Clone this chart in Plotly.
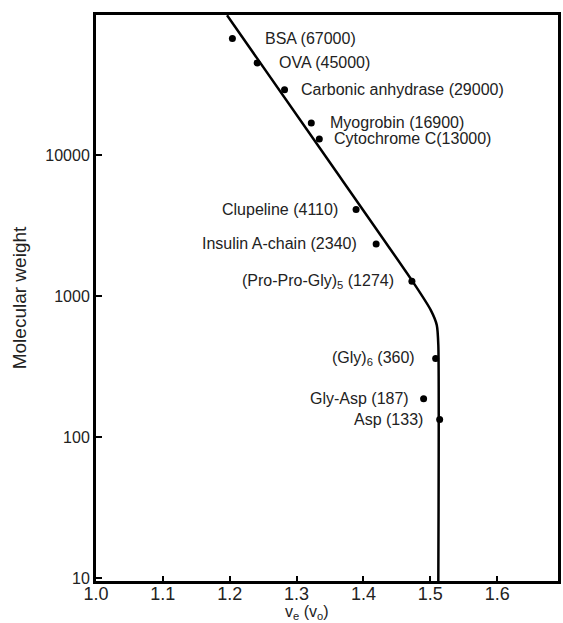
import math
import plotly.graph_objects as go

# ---- data ----
names = ["BSA (67000)", "OVA (45000)", "Carbonic anhydrase (29000)", "Myogrobin (16900)",
         "Cytochrome C(13000)", "Clupeline (4110)", "Insulin A-chain (2340)",
         "(Pro-Pro-Gly)<sub>5</sub> (1274)", "(Gly)<sub>6</sub> (360)", "Gly-Asp (187)", "Asp (133)"]
ve = [1.204, 1.241, 1.282, 1.322, 1.334, 1.389, 1.419, 1.4725, 1.508, 1.490, 1.514]
mw = [67000, 45000, 29000, 16900, 13000, 4110, 2340, 1274, 360, 187, 133]
label_side = ["right"] * 5 + ["left"] * 6
label_gap = [31, 20, 14, 17, 13, 16, 17, 16, 19, 13, 15]

curve_x = [1.196, 1.342, 1.4725, 1.5007, 1.5097, 1.512, 1.512]
curve_y = [98000, 10000, 1290, 794, 622, 450, 9.5]

xticks = [1.0, 1.1, 1.2, 1.3, 1.4, 1.5, 1.6]
yticks = [10, 100, 1000, 10000]

FONT = "Liberation Sans, Arial, sans-serif"

fig = go.Figure()
fig.add_trace(go.Scatter(x=curve_x, y=curve_y, mode="lines",
                         line=dict(color="black", width=2.5, shape="spline", smoothing=0.6),
                         hoverinfo="skip", showlegend=False))
fig.add_trace(go.Scatter(x=ve, y=mw, mode="markers",
                         marker=dict(color="black", size=7, symbol="circle"),
                         showlegend=False))

for n, x, y, side, gap in zip(names, ve, mw, label_side, label_gap):
    fig.add_annotation(x=x, y=math.log10(y), yref="y", xref="x", text=n, showarrow=False,
                       xanchor="left" if side == "right" else "right",
                       xshift=gap if side == "right" else -gap,
                       font=dict(family=FONT, size=16, color="#222"))

fig.add_annotation(x=0.456, y=-0.0742, xref="paper", yref="paper",
                   text="v<sub>e</sub> (v<sub>o</sub>)", showarrow=False,
                   xanchor="center", yanchor="bottom", borderpad=0,
                   font=dict(family=FONT, size=16, color="#222"))

fig.update_layout(
    width=563, height=623,
    margin=dict(l=96, r=2, t=15, b=42),
    plot_bgcolor="white", paper_bgcolor="white",
    font=dict(family=FONT, color="#222"),
    xaxis=dict(range=[1.0, 1.691], tickvals=xticks, ticktext=[f"{v:.1f}" for v in xticks],
               ticks="inside", ticklen=5, tickwidth=2, tickcolor="black",
               showline=True, linecolor="black", linewidth=3, mirror=True,
               showgrid=False, zeroline=False, tickfont=dict(size=18),
               ticklabelstandoff=-6),
    yaxis=dict(type="log", range=[0.979, 4.993], tickvals=yticks, ticktext=[str(v) for v in yticks],
               ticks="inside", ticklen=6, tickwidth=2, tickcolor="black",
               showline=True, linecolor="black", linewidth=3, mirror=True,
               showgrid=False, zeroline=False, tickfont=dict(size=16),
               title=dict(text="Molecular weight", font=dict(size=19), standoff=14)),
)

fig.write_html("out.html")
